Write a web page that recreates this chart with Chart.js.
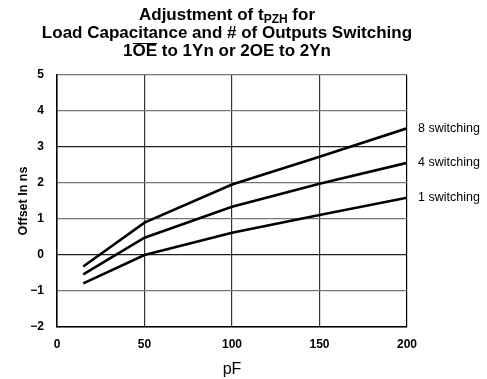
<!DOCTYPE html>
<html>
<head>
<meta charset="utf-8">
<script src="https://cdn.jsdelivr.net/npm/chart.js@4"></script>
<style>
  html, body { margin: 0; padding: 0; background: #fff; }
  #wrap { position: relative; width: 487px; height: 379px; }
  #title {
    position: absolute; left: 0; top: 6px; width: 454px; text-align: center;
    font-family: "Liberation Sans", Arial, sans-serif; font-weight: bold;
    font-size: 17px; line-height: 18px; color: #000; z-index: 2;
  }
  #title sub { font-size: 12px; vertical-align: -3px; line-height: 0; }
  .ov { display: inline-block; line-height: 13px; border-top: 1.5px solid #000; }
</style>
</head>
<body>
<div id="wrap">
  <div id="title">
    Adjustment of t<sub>PZH</sub> for<br>
    Load Capacitance and # of Outputs Switching<br>
    1<span class="ov">OE</span> to 1Yn or 2OE to 2Yn
  </div>
  <canvas id="chart" width="487" height="379"></canvas>
</div>
<script>
// load capacitance (pF)
const capacitance = [15, 50, 100, 150, 200];
// offset in ns for each number of outputs switching
const switching8 = [-0.32, 0.9, 1.96, 2.73, 3.52];
const switching4 = [-0.54, 0.48, 1.34, 1.98, 2.56];
const switching1 = [-0.79, 0.0, 0.62, 1.11, 1.59];
const seriesNames = ['8 switching', '4 switching', '1 switching'];

const xTicks = [0, 50, 100, 150, 200];
const yTicks = [-2, -1, 0, 1, 2, 3, 4, 5];

const font = '"Liberation Sans", Arial, sans-serif';

function toPoints(values) {
  return values.map((v, i) => ({ x: capacitance[i], y: v }));
}

// writes the series name to the right of each line's last point
const endLabels = {
  id: 'endLabels',
  afterDatasetsDraw(chart) {
    const ctx = chart.ctx;
    const { x, y } = chart.scales;
    ctx.save();
    ctx.font = '12.5px ' + font;
    ctx.fillStyle = '#000';
    ctx.textBaseline = 'middle';
    chart.data.datasets.forEach((ds) => {
      const last = ds.data[ds.data.length - 1];
      ctx.fillText(ds.label, x.right + 11, y.getPixelForValue(last.y));
    });
    ctx.restore();
  }
};

const ctx = document.getElementById('chart').getContext('2d');
new Chart(ctx, {
  type: 'line',
  data: {
    datasets: [
      { label: seriesNames[0], data: toPoints(switching8) },
      { label: seriesNames[1], data: toPoints(switching4) },
      { label: seriesNames[2], data: toPoints(switching1) },
    ].map((d) => ({
      ...d,
      borderColor: '#000',
      borderWidth: 2.6,
      pointRadius: 0,
      tension: 0,
      fill: false,
    })),
  },
  options: {
    responsive: false,
    animation: false,
    layout: { padding: { top: 75, right: 80, left: 0, bottom: 0 } },
    plugins: {
      legend: { display: false },
      tooltip: { enabled: false },
    },
    scales: {
      x: {
        type: 'linear',
        min: 0,
        max: 200,
        afterBuildTicks: (s) => { s.ticks = xTicks.map((v) => ({ value: v })); },
        afterFit: (s) => { s.height = 52; },
        grid: {
          color: (c) => (c.tick.value === 0 || c.tick.value === 200 ? '#000' : '#333'),
          lineWidth: 1.2,
          drawTicks: false,
        },
        border: { color: '#000', width: 1.5 },
        ticks: {
          color: '#000',
          font: { family: font, size: 12, weight: 'bold' },
          padding: 10,
          maxRotation: 0,
        },
        title: {
          display: true,
          text: 'pF',
          color: '#000',
          font: { family: font, size: 16 },
          padding: { top: 0, bottom: 0 },
        },
      },
      y: {
        type: 'linear',
        min: -2,
        max: 5,
        afterBuildTicks: (s) => { s.ticks = yTicks.map((v) => ({ value: v })); },
        afterFit: (s) => { s.width = 57; },
        grid: {
          color: (c) => (c.tick.value === 0 || c.tick.value === 3 ? '#222' : '#777'),
          lineWidth: 1.2,
          drawTicks: false,
        },
        border: { color: '#000', width: 1.5 },
        ticks: {
          color: '#000',
          font: { family: font, size: 12, weight: 'bold' },
          padding: 13,
          callback: (v) => (v < 0 ? '\u2212' + Math.abs(v) : String(v)),
        },
        title: {
          display: true,
          text: 'Offset In ns',
          color: '#000',
          font: { family: font, size: 12.5, weight: 'bold' },
          padding: { top: 16, bottom: 0 },
        },
      },
    },
  },
  plugins: [endLabels],
});
</script>
</body>
</html>
